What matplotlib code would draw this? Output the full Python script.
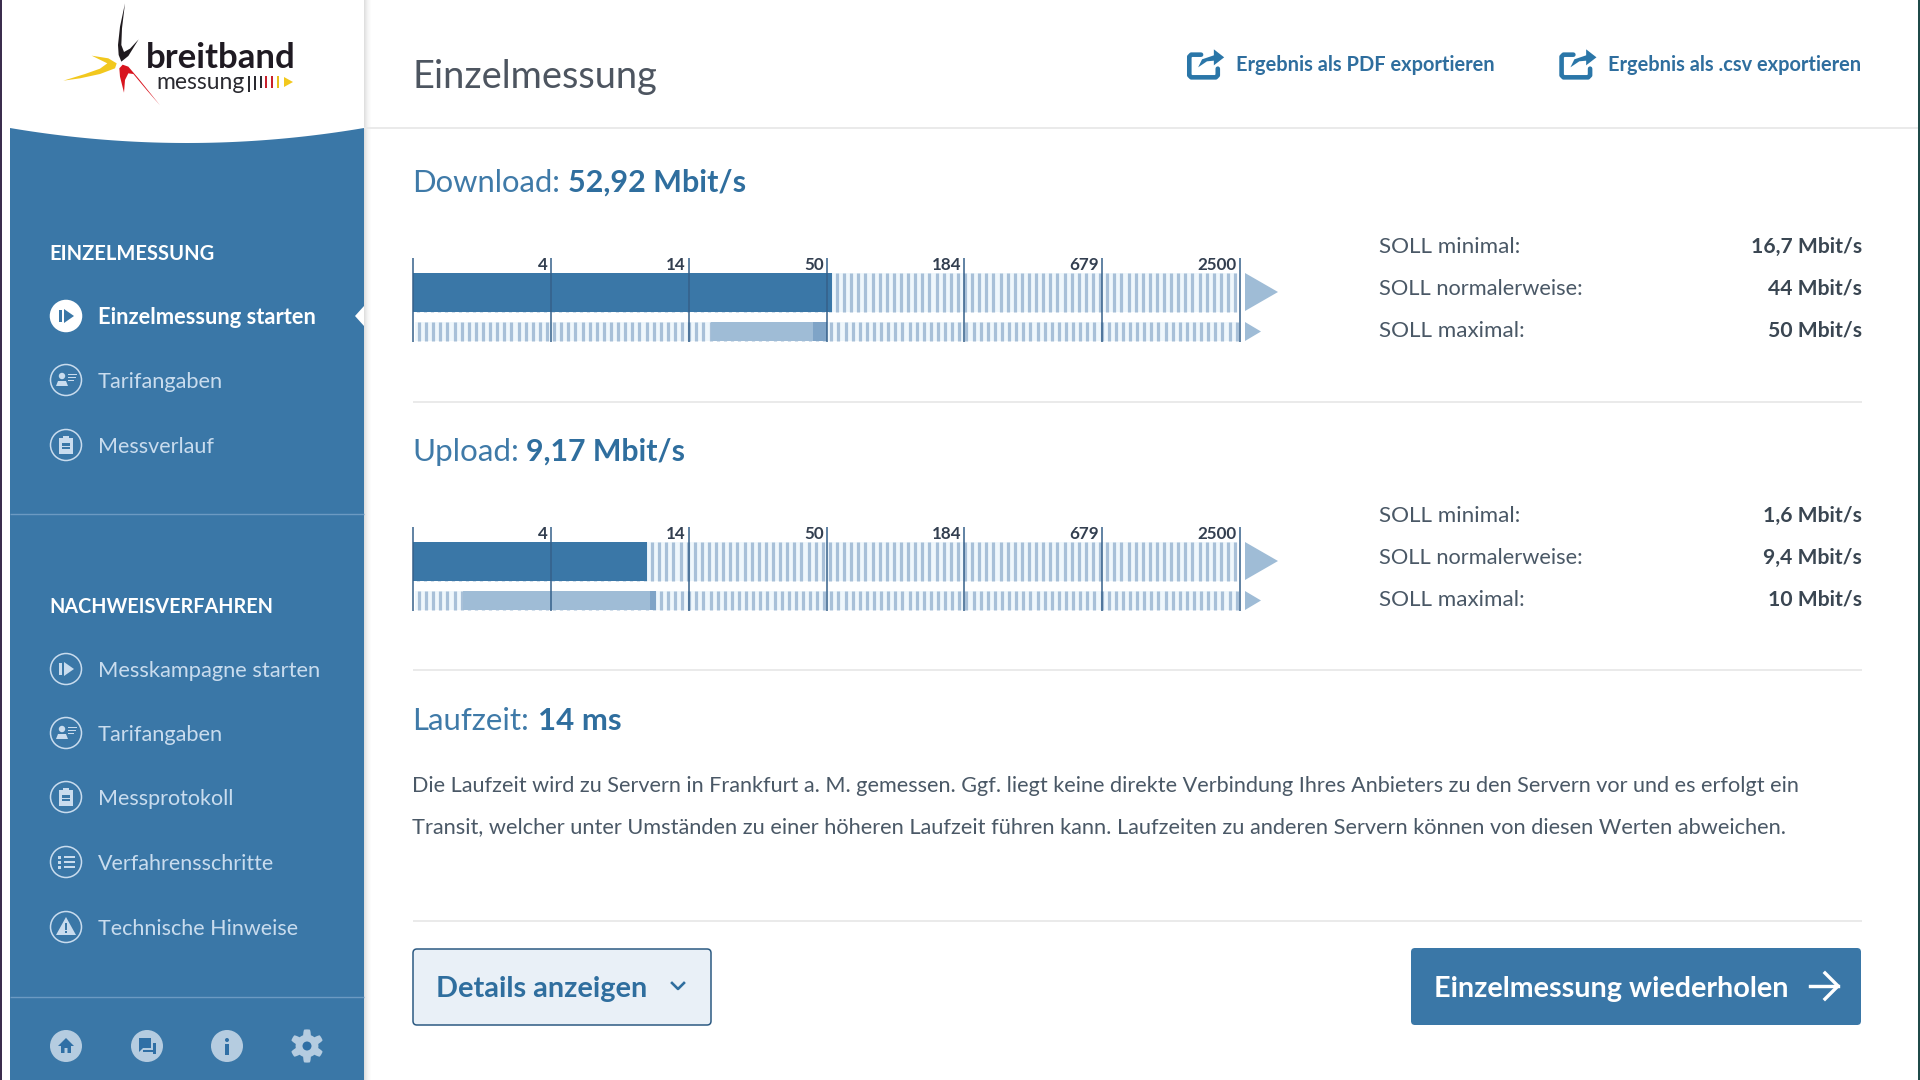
import numpy as np
import matplotlib
matplotlib.use("Agg")
import matplotlib.pyplot as plt
from matplotlib.patches import Rectangle, Polygon, Circle, FancyBboxPatch
from matplotlib.transforms import ScaledTranslation
from matplotlib.ticker import NullLocator

# ---------- data ----------
scale_ticks = [1, 2500 ** (1 / 6), 2500 ** (2 / 6), 2500 ** (3 / 6), 2500 ** (4 / 6), 2500 ** (5 / 6), 2500]
scale_labels = ["", "4", "14", "50", "184", "679", "2500"]
download_value = 52.92
download_soll = [16.7, 44, 50]
upload_value = 9.17
upload_soll = [1.6, 9.4, 10]
download_rows = ["16,7 Mbit/s", "44 Mbit/s", "50 Mbit/s"]
upload_rows = ["1,6 Mbit/s", "9,4 Mbit/s", "10 Mbit/s"]
soll_labels = ["SOLL minimal:", "SOLL normalerweise:", "SOLL maximal:"]

# ---------- style ----------
W, H = 1920, 1080
PX = 72 / 100
FONT = "Lato"
BLUE = "#3A77A7"
NAVY = "#35608A"
STRIPE = "#A8C0D8"
RANGE = "#9FBCD6"
RANGE_DK = "#7FA4C7"
ICON = "#2A76A8"
NAVTXT = "#C9DCEE"
BODY = "#4A5866"
LINE = "#E9E9E9"

fig = plt.figure(figsize=(W / 100, H / 100), dpi=100, facecolor="white")
page = fig.add_axes([0, 0, 1, 1])
page.set_xlim(0, W)
page.set_ylim(H, 0)
page.axis("off")
renderer = fig.canvas.get_renderer()


def T(x, yc, s, width=None, size=16, color=BODY, weight="normal", ha="left", zorder=5):
    """Text with its cap-height centred on yc; optionally sized to a pixel width."""
    t = page.text(x, yc, s, fontsize=size * PX, color=color, fontweight=weight, family=FONT,
                  ha=ha, va="baseline", zorder=zorder)
    if width:
        w = t.get_window_extent(renderer).width
        size = size * width / w
        t.set_fontsize(size * PX)
    t.set_y(yc + 0.36 * size)
    return t


def rect(x0, y0, x1, y1, c, z=1, **k):
    page.add_patch(Rectangle((x0, y0), x1 - x0, y1 - y0, fc=c, ec="none", zorder=z, **k))


def poly(pts, c, z=4, **k):
    page.add_patch(Polygon(pts, closed=True, fc=c, ec="none", zorder=z, **k))


def hline(x0, x1, y, c=LINE, lw=1.3, z=2):
    page.plot([x0, x1], [y, y], color=c, lw=lw * PX * 1.4, zorder=z, solid_capstyle="butt")


# ---------- page chrome ----------
rect(0, 0, 1.6, H, "#3B2D4D", 6)
rect(1918.4, 0, W, H, "#1F4A48", 6)
rect(10, 128, 364, H, BLUE, 2)
xs = np.linspace(10, 364, 80)
curve = 128 + 15 * (1 - ((xs - 187) / 177) ** 2)
poly(list(zip(xs, curve)) + [(364, 120), (10, 120)], "white", 3)
for i, a in enumerate([0.22, 0.17, 0.13, 0.09, 0.06, 0.04, 0.02]):
    rect(364 + i, 0, 365 + i, H, "#707070", 1, alpha=a)
hline(364, 1918, 127.5)
hline(413, 1862, 402)
hline(413, 1862, 670)
hline(413, 1862, 921)
hline(10, 364, 514, "#6C9AC2", 1.0, 3)
hline(10, 364, 997, "#6C9AC2", 1.0, 3)

# ---------- logo ----------
def z4(pts):
    return [(x / 3, y / 3) for x, y in pts]

poly(z4([(375, 10), (360, 80), (354, 135), (356, 165), (364, 185), (385, 168), (416, 118),
         (390, 146), (372, 156), (364, 135), (366, 85)]), "#1F1A1E")
poly(z4([(190, 242), (255, 222), (300, 206), (322, 190), (275, 167), (325, 175), (350, 190),
         (345, 205), (300, 222), (240, 235)]), "#F2C81E")
poly(z4([(480, 316), (440, 270), (400, 222), (385, 220), (375, 240), (372, 278), (360, 230),
         (358, 205), (368, 194), (385, 200), (415, 235)]), "#D8141E")
T(146, 55, "breitband", width=150, size=30, color="#1F1A22", weight="bold", zorder=5)
T(156, 81, "messung", width=88, size=21, color="#2A2A30")
for bx, bc, y0, y1 in [(248, "#2A2A30", 76, 92), (254, "#2A2A30", 76, 90), (260, "#2A2A30", 76, 88),
                       (265, "#C9202C", 76, 88), (271, "#C9202C", 76, 88), (277, "#E8C01E", 76, 88)]:
    rect(bx, y0, bx + 2, y1, bc, 5)
poly([(284, 77), (293, 82), (284, 87)], "#F2C81E")

# ---------- sidebar icons ----------
def ring(cx, cy, filled=False, c=NAVTXT):
    page.add_patch(Circle((cx, cy), 15.5, fc=c if filled else "none", ec=c, lw=1.1, zorder=4))


def ic_play(cx, cy, active=False):
    c = "white" if active else NAVTXT
    ring(cx, cy, active, c)
    g = BLUE if active else NAVTXT
    rect(cx - 7, cy - 6, cx - 4.5, cy + 6, g, 5)
    poly([(cx - 2, cy - 7), (cx + 8, cy), (cx - 2, cy + 7)], g, 5)


def ic_person(cx, cy):
    ring(cx, cy)
    page.add_patch(Circle((cx - 4, cy - 4), 3.2, fc=NAVTXT, ec="none", zorder=5))
    poly([(cx - 10, cy + 6), (cx - 8, cy + 1), (cx, cy + 1), (cx + 2, cy + 6)], NAVTXT, 5)
    for dy, l in [(-6, 9), (-3, 8), (0, 6)]:
        rect(cx + 2, cy + dy, cx + 2 + l, cy + dy + 1.3, NAVTXT, 5)


def ic_clip(cx, cy):
    ring(cx, cy)
    rect(cx - 7, cy - 7, cx + 7, cy + 9, NAVTXT, 5)
    rect(cx - 3, cy - 9, cx + 3, cy - 5, NAVTXT, 5)
    rect(cx - 4, cy - 2, cx + 4, cy + 4, BLUE, 6)
    rect(cx - 4, cy + 0.5, cx + 4, cy + 1.5, NAVTXT, 7)


def ic_list(cx, cy):
    ring(cx, cy)
    for dy in (-6, -1, 4):
        rect(cx - 8, cy + dy, cx - 5, cy + dy + 2.6, NAVTXT, 5)
        rect(cx - 2, cy + dy, cx + 9, cy + dy + 2, NAVTXT, 5)


def ic_warn(cx, cy):
    ring(cx, cy)
    poly([(cx, cy - 10), (cx + 10, cy + 8), (cx - 10, cy + 8)], NAVTXT, 5)
    rect(cx - 1, cy - 4, cx + 1, cy + 3, BLUE, 6)
    rect(cx - 1, cy + 4, cx + 1, cy + 6, BLUE, 6)


def ic_bottom(cx, cy, kind):
    c = "#B5CCE0"
    g = "#2F6FA5"
    if kind != "gear":
        page.add_patch(Circle((cx, cy), 16, fc=c, ec="none", zorder=4))
    if kind == "home":
        poly([(cx, cy - 8), (cx + 8, cy), (cx + 5, cy), (cx + 5, cy + 7), (cx + 1.5, cy + 7), (cx + 1.5, cy + 2),
              (cx - 1.5, cy + 2), (cx - 1.5, cy + 7), (cx - 5, cy + 7), (cx - 5, cy), (cx - 8, cy)], g, 5)
    elif kind == "chat":
        rect(cx - 8, cy - 8, cx + 4, cy + 2, g, 5)
        poly([(cx - 8, cy + 2), (cx - 8, cy + 6), (cx - 4, cy + 2)], g, 5)
        rect(cx + 6, cy - 3, cx + 9, cy + 8, g, 5)
        rect(cx - 4, cy + 4, cx + 9, cy + 6, g, 5)
    elif kind == "info":
        rect(cx - 1.7, cy - 2, cx + 1.7, cy + 9, g, 5)
        page.add_patch(Circle((cx, cy - 6), 2, fc=g, ec="none", zorder=5))
    else:
        a = np.linspace(0, 2 * np.pi, 144, endpoint=False)
        r = 14 + 2.6 * np.clip(2.2 * np.cos(6 * a), -1, 1)
        poly(list(zip(cx + r * np.sin(a), cy + r * np.cos(a))), c, 4)
        page.add_patch(Circle((cx, cy), 4.5, fc=g, ec="none", zorder=5))


NX = 66
T(49, 253, "EINZELMESSUNG", width=165.5, size=18, color="white", weight="bold")
ic_play(NX, 316, True)
T(98, 316, "Einzelmessung starten", width=218, size=20, color="white", weight="bold")
ic_person(NX, 380)
T(98, 380, "Tarifangaben", width=125, size=20, color=NAVTXT)
ic_clip(NX, 445)
T(98, 445, "Messverlauf", width=116, size=20, color=NAVTXT)
poly([(364, 306), (355, 316), (364, 326)], "white", 5)

T(49, 606, "NACHWEISVERFAHREN", width=224, size=18, color="white", weight="bold")
ic_play(NX, 669)
T(98, 669, "Messkampagne starten", width=222, size=20, color=NAVTXT)
ic_person(NX, 733)
T(98, 733, "Tarifangaben", width=125, size=20, color=NAVTXT)
ic_clip(NX, 797)
T(98, 797, "Messprotokoll", width=135, size=20, color=NAVTXT)
ic_list(NX, 862)
T(98, 862, "Verfahrensschritte", width=175, size=20, color=NAVTXT)
ic_warn(NX, 927)
T(98, 927, "Technische Hinweise", width=200, size=20, color=NAVTXT)
for bx, kind in [(66, "home"), (147, "chat"), (227, "info"), (307, "gear")]:
    ic_bottom(bx, 1046, kind)

# ---------- header ----------
T(412, 74, "Einzelmessung", width=245, size=36, color="#4D5560")


def share(dx):
    def z(pts):
        return [(1150 + x / 2.036 + dx, 20 + y / 3) for x, y in pts]

    p = z([(104, 104), (84, 104), (80, 110), (80, 166), (84, 172), (134, 172), (138, 166), (138, 146)])
    page.plot([q[0] for q in p], [q[1] for q in p], color=ICON, lw=4.6 * PX, zorder=4,
              solid_joinstyle="round", solid_capstyle="round")
    poly(z([(98, 142), (106, 118), (130, 106), (130, 88), (151, 112), (130, 136), (130, 122), (116, 124)]), ICON)


share(0)
share(372.3)
T(1236, 64, "Ergebnis als PDF exportieren", width=259, size=20, color="#2F6E9E", weight="bold")
T(1608, 64, "Ergebnis als .csv exportieren", width=254, size=20, color="#2F6E9E", weight="bold")

# ---------- measurement sections ----------
X0, X1 = 413.0, 1240.0


def section(y_top, heading, hw, value_text, vx, vw, value, soll, rows):
    yc = y_top - 77
    T(412, yc, heading, width=hw, size=30, color="#3F7AA8")
    T(vx, yc, value_text, width=vw, size=30, color="#2F6E9E", weight="bold")

    # background stripes on a pale ground
    for y0, y1, phase in [(y_top + 15, y_top + 53.7, 417.5), (y_top + 63.7, y_top + 83, 419.0)]:
        rect(X0 + 2, y0, X1 - 3, y1, "#EFF7FC", 1.5)
        centres = phase + 7.11 * np.arange(116)
        page.vlines(centres, y0, y1, color=STRIPE, lw=3.2 * PX, zorder=2)
    poly([(1245, y_top + 15), (1278, y_top + 34), (1245, y_top + 53)], RANGE)
    poly([(1245, y_top + 64), (1261, y_top + 73.5), (1245, y_top + 83)], RANGE)

    ax = fig.add_axes([X0 / W, 1 - (y_top + 84) / H, (X1 - X0) / W, 84 / H], zorder=3)
    ax.patch.set_visible(False)
    ax.set_xscale("log")
    ax.set_xlim(1, 2500)
    ax.set_ylim(84, 0)
    for s in ax.spines.values():
        s.set_visible(False)
    ax.yaxis.set_visible(False)
    ax.barh(34.35, value - 1, left=1, height=38.7, color=BLUE, zorder=1)
    ax.barh(73.35, soll[1] - soll[0], left=soll[0], height=19.3, color=RANGE, zorder=1)
    ax.barh(73.35, soll[2] - soll[1], left=soll[1], height=19.3, color=RANGE_DK, zorder=1)
    ax.set_xticks(scale_ticks)
    ax.set_xticklabels(scale_labels)
    ax.xaxis.set_minor_locator(NullLocator())
    ax.set_axisbelow(False)
    ax.tick_params(axis="x", which="major", top=True, bottom=False, labeltop=True, labelbottom=False,
                   direction="in", length=84 * PX, width=1.1, color=NAVY, pad=-15 * PX,
                   labelsize=17 * PX, labelcolor="#333F50")
    shift = ScaledTranslation(-3 / 100, 0, fig.dpi_scale_trans)
    for tick in ax.xaxis.get_major_ticks():
        lab = tick.label2
        lab.set_ha("right")
        lab.set_family(FONT)
        lab.set_fontweight("bold")
        lab.set_transform(lab.get_transform() + shift)

    ys = [y_top - 13, y_top + 29, y_top + 71]
    lw = [141, 204, 145.5]
    for y, lab, w, r in zip(ys, soll_labels, lw, rows):
        T(1379, y, lab, width=w, size=20)
        T(1862, y, r, size=21.2, color="#3A4652", weight="bold", ha="right")


section(258, "Download:", 149, "52,92 Mbit/s", 568, 178, download_value, download_soll, download_rows)
section(527, "Upload:", 107, "9,17 Mbit/s", 526.5, 159, upload_value, upload_soll, upload_rows)

T(412, 719, "Laufzeit:", width=117, size=30, color="#3F7AA8")
T(537.5, 719, "14 ms", width=83.5, size=30, color="#2F6E9E", weight="bold")
T(412, 784, "Die Laufzeit wird zu Servern in Frankfurt a. M. gemessen. Ggf. liegt keine direkte Verbindung "
            "Ihres Anbieters zu den Servern vor und es erfolgt ein", width=1387, size=20)
T(412, 825, "Transit, welcher unter Umständen zu einer höheren Laufzeit führen kann. Laufzeiten zu anderen "
            "Servern können von diesen Werten abweichen.", width=1372, size=20)

# ---------- buttons ----------
page.add_patch(FancyBboxPatch((413, 949), 298, 76, boxstyle="round,pad=0,rounding_size=4",
                              fc="#E9F0F7", ec="#2C5A82", lw=1.1, zorder=3))
page.add_patch(FancyBboxPatch((1411, 948), 450, 77, boxstyle="round,pad=0,rounding_size=4",
                              fc=BLUE, ec="none", zorder=3))
T(436, 987, "Details anzeigen", width=211, size=26, color="#2F6E9E", weight="bold")
page.plot([672, 678, 684], [983, 989, 983], color="#2F6E9E", lw=2.6 * PX, zorder=5)
T(1434, 987, "Einzelmessung wiederholen", width=355, size=26, color="white", weight="bold")
page.plot([1810, 1838], [986, 986], color="white", lw=3.4 * PX, zorder=5)
page.plot([1825, 1838, 1825], [973, 986, 999], color="white", lw=3.4 * PX, zorder=5)

fig.savefig("out.png", dpi=100, facecolor="white")
